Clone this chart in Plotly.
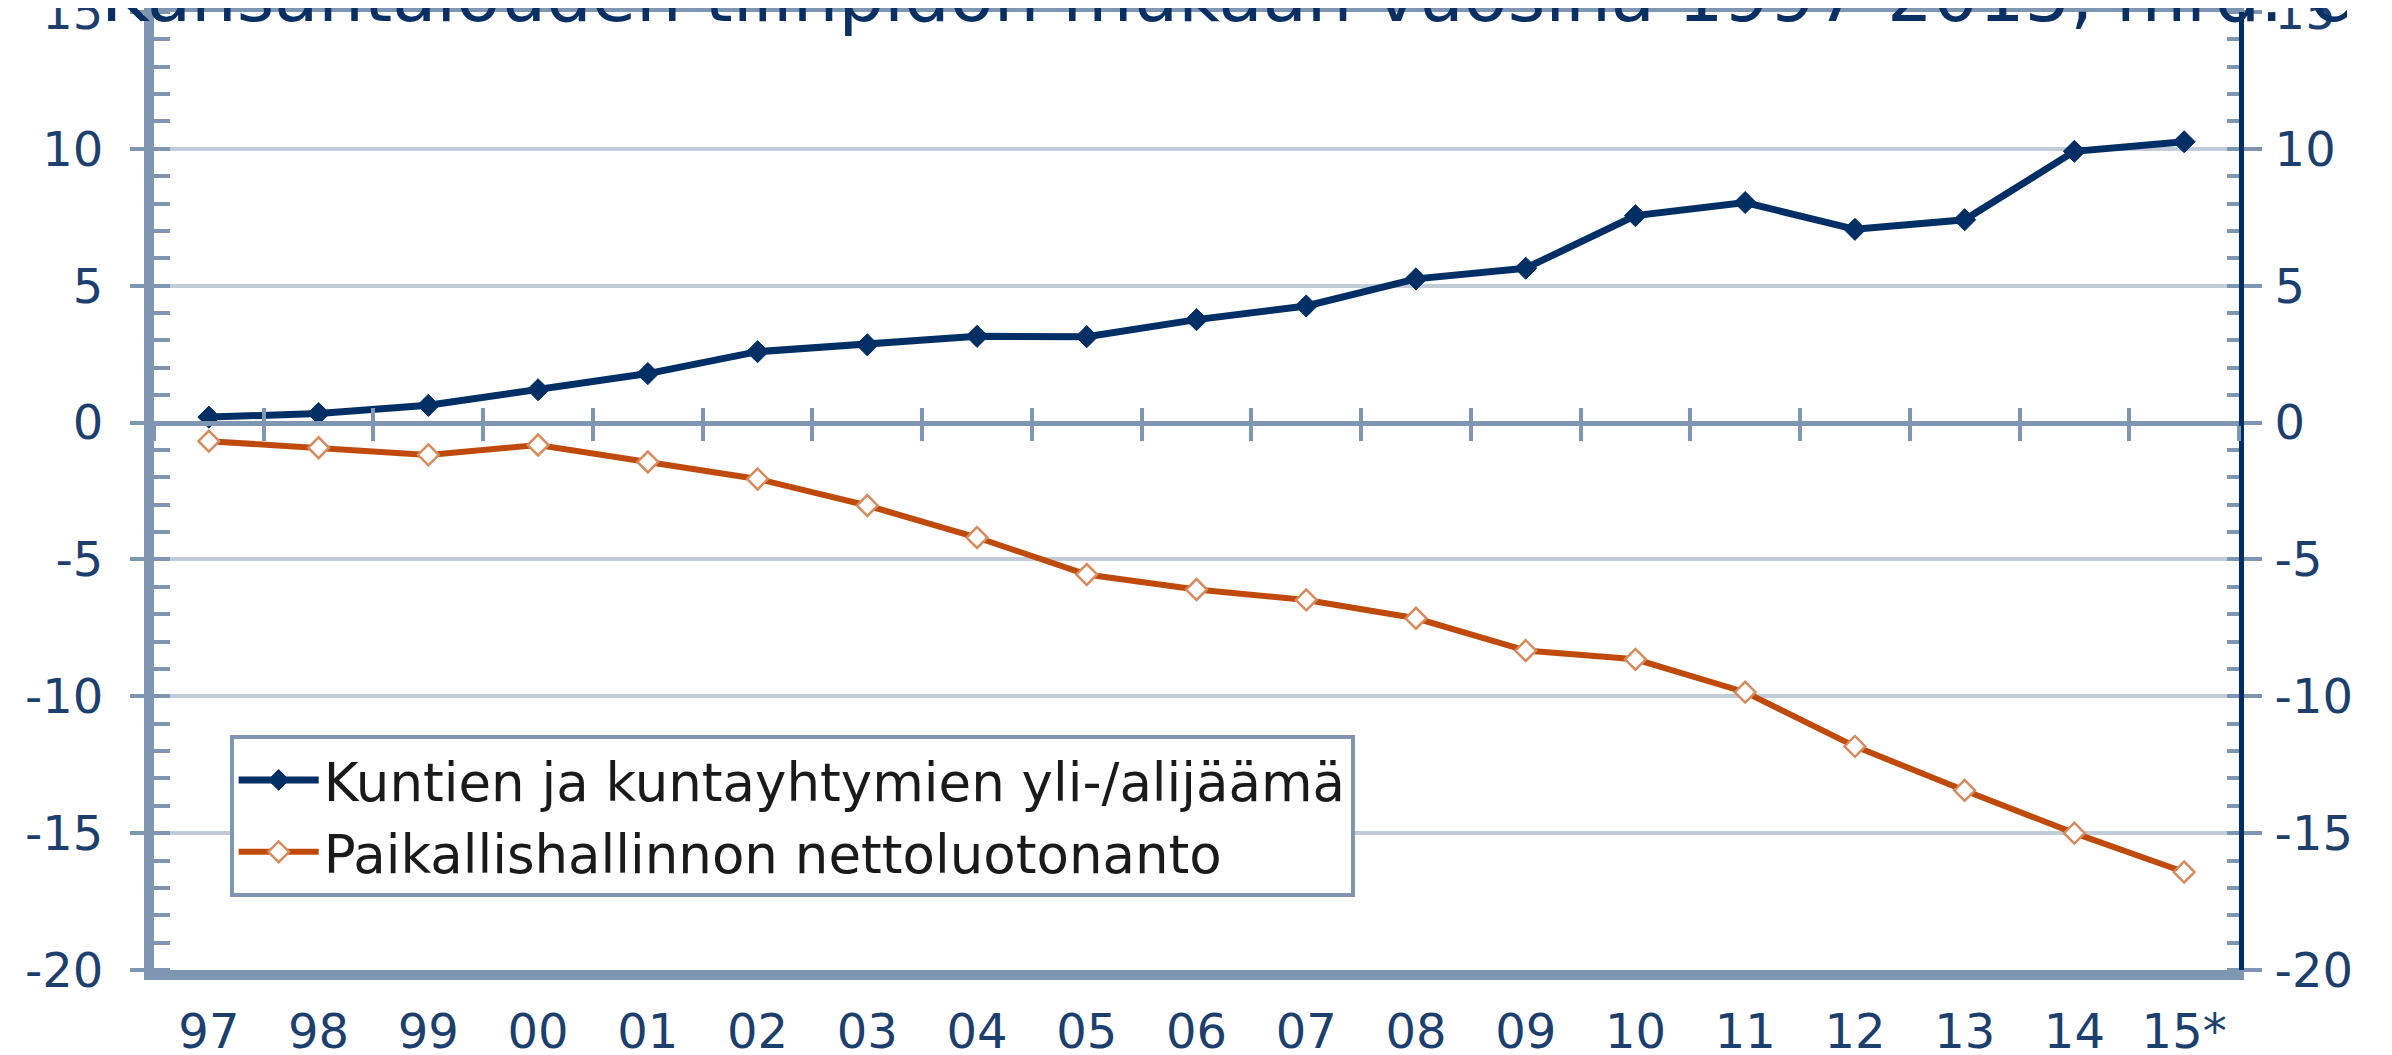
import plotly.graph_objects as go

years = ["97", "98", "99", "00", "01", "02", "03", "04", "05", "06",
         "07", "08", "09", "10", "11", "12", "13", "14", "15*"]
kunnat = [0.2, 0.33, 0.63, 1.2, 1.79, 2.59, 2.84, 3.15, 3.14, 3.76,
          4.26, 5.25, 5.64, 7.56, 8.04, 7.06, 7.41, 9.91, 10.26]
paikallis = [-0.68, -0.92, -1.18, -0.82, -1.44, -2.06, -3.03, -4.2, -5.55, -6.1,
             -6.48, -7.15, -8.33, -8.65, -9.85, -11.83, -13.44, -15.0, -16.42]
y_ticks = [-20, -15, -10, -5, 0, 5, 10, 15]
y_tick_text = ["-20", "-15", "-10", "-5", "0", "5", "10", "15"]
name_kunnat = "Kuntien ja kuntayhtymien yli-/alijäämä"
name_paik = "Paikallishallinnon nettoluotonanto"
title_text = "Kansantalouden tilinpidon mukaan vuosina 1997-2015, mrd. €"

BLUE = "#002f66"
ORANGE = "#bf4a0c"
AXIS = "#7f96b2"
GRID = "#c2ccd9"
LABEL = "#1d3f6e"
FONT = "DejaVu Sans"
YMIN, YMAX = -20, 15

n = len(years)
idx = list(range(n))
zero_pos = (0 - YMIN) / (YMAX - YMIN)

fig = go.Figure()
fig.add_trace(go.Scatter(
    x=years, y=kunnat, name=name_kunnat, mode="lines+markers",
    line=dict(color=BLUE, width=7),
    marker=dict(symbol="diamond", size=17, color=BLUE, line=dict(color=BLUE, width=1)),
))
fig.add_trace(go.Scatter(
    x=years, y=paikallis, name=name_paik, mode="lines+markers",
    line=dict(color=ORANGE, width=6),
    marker=dict(symbol="diamond", size=16, color="white", line=dict(color="#d98a5c", width=2.5)),
))
# invisible helper traces so that the overlay axes (right scale, zero-line ticks) are drawn
fig.add_trace(go.Scatter(x=years, y=kunnat, yaxis="y2", mode="lines",
                         line=dict(width=0, color="rgba(0,0,0,0)"),
                         showlegend=False, hoverinfo="skip"))
fig.add_trace(go.Scatter(x=idx, y=kunnat, xaxis="x2", mode="lines",
                         line=dict(width=0, color="rgba(0,0,0,0)"),
                         showlegend=False, hoverinfo="skip"))
fig.add_trace(go.Scatter(x=idx, y=kunnat, xaxis="x3", mode="lines",
                         line=dict(width=0, color="rgba(0,0,0,0)"),
                         showlegend=False, hoverinfo="skip"))

fig.update_layout(
    width=2392, height=1055,
    margin=dict(l=146, r=161, t=4, b=93),
    paper_bgcolor="white", plot_bgcolor="white",
    font=dict(family=FONT, color=LABEL, size=48),
    showlegend=True,
    legend=dict(
        x=0.0363, y=0.2453, xanchor="left", yanchor="top",
        bgcolor="white", bordercolor=AXIS, borderwidth=4,
        font=dict(family=FONT, size=53, color="#1a1a1a"),
        itemwidth=80, tracegroupgap=0,
    ),
    xaxis=dict(
        type="category", categoryorder="array", categoryarray=years,
        range=[-0.5, n - 0.5], automargin=False,
        showline=True, linewidth=10, linecolor=AXIS, mirror=True,
        ticks="", showgrid=False, zeroline=False,
        tickfont=dict(family=FONT, size=48, color=LABEL),
        ticklabelstandoff=10,
    ),
    xaxis2=dict(
        overlaying="x", anchor="free", position=zero_pos, automargin=False,
        range=[-0.5, n - 0.5], tick0=-0.5, dtick=1,
        showline=True, linewidth=5, linecolor=AXIS,
        ticks="outside", ticklen=15, tickwidth=3.5, tickcolor=AXIS,
        showticklabels=False, showgrid=False, zeroline=False,
    ),
    xaxis3=dict(
        overlaying="x", anchor="free", position=zero_pos, automargin=False,
        range=[-0.5, n - 0.5], tick0=-0.5, dtick=1,
        showline=False,
        ticks="inside", ticklen=15, tickwidth=3.5, tickcolor=AXIS,
        showticklabels=False, showgrid=False, zeroline=False,
    ),
    yaxis=dict(
        range=[YMIN, YMAX], tickmode="array", tickvals=y_ticks, ticktext=y_tick_text,
        automargin=False, ticklabeloverflow="allow",
        showline=True, linewidth=10, linecolor=AXIS,
        ticks="outside", ticklen=14, tickwidth=3.5, tickcolor=AXIS,
        minor=dict(ticks="inside", dtick=1, ticklen=16, tickwidth=3.5, tickcolor=AXIS, showgrid=False),
        showgrid=True, gridcolor=GRID, gridwidth=4, zeroline=False,
        tickfont=dict(family=FONT, size=48, color=LABEL),
        ticklabelstandoff=17,
    ),
    yaxis2=dict(
        overlaying="y", side="right", anchor="x",
        range=[YMIN, YMAX], tickmode="array", tickvals=y_ticks, ticktext=y_tick_text,
        automargin=False, ticklabeloverflow="allow",
        showline=True, linewidth=5, linecolor=BLUE,
        ticks="outside", ticklen=18, tickwidth=3.5, tickcolor=AXIS,
        minor=dict(ticks="inside", dtick=1, ticklen=12, tickwidth=3.5, tickcolor=AXIS, showgrid=False),
        showgrid=False, zeroline=False,
        tickfont=dict(family=FONT, size=48, color=LABEL),
        ticklabelstandoff=3,
    ),
)

fig.add_annotation(
    text=title_text, xref="paper", yref="paper", x=0.5, y=1.0,
    xanchor="center", yanchor="bottom", yshift=-28, xshift=30, showarrow=False,
    font=dict(family=FONT, size=72, color="#0a2f63"),
)

fig.write_html("out.html")
